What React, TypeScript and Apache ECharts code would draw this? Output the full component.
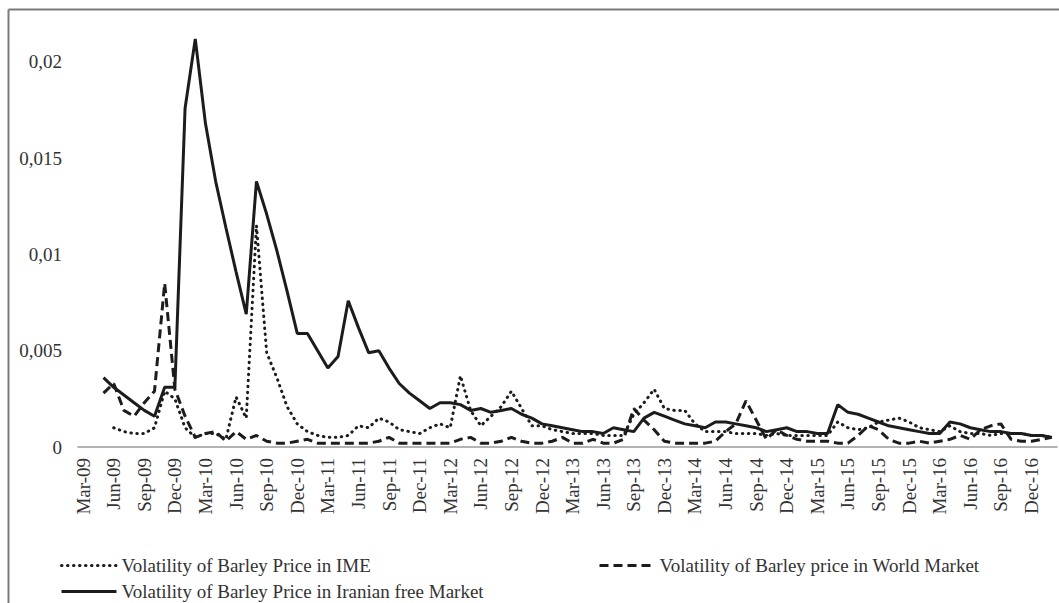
import React, { useEffect, useRef } from "react";
import * as echarts from "echarts";

const categories = [
  "Mar-09","Apr-09","May-09","Jun-09","Jul-09","Aug-09","Sep-09","Oct-09","Nov-09","Dec-09",
  "Jan-10","Feb-10","Mar-10","Apr-10","May-10","Jun-10","Jul-10","Aug-10","Sep-10","Oct-10","Nov-10","Dec-10",
  "Jan-11","Feb-11","Mar-11","Apr-11","May-11","Jun-11","Jul-11","Aug-11","Sep-11","Oct-11","Nov-11","Dec-11",
  "Jan-12","Feb-12","Mar-12","Apr-12","May-12","Jun-12","Jul-12","Aug-12","Sep-12","Oct-12","Nov-12","Dec-12",
  "Jan-13","Feb-13","Mar-13","Apr-13","May-13","Jun-13","Jul-13","Aug-13","Sep-13","Oct-13","Nov-13","Dec-13",
  "Jan-14","Feb-14","Mar-14","Apr-14","May-14","Jun-14","Jul-14","Aug-14","Sep-14","Oct-14","Nov-14","Dec-14",
  "Jan-15","Feb-15","Mar-15","Apr-15","May-15","Jun-15","Jul-15","Aug-15","Sep-15","Oct-15","Nov-15","Dec-15",
  "Jan-16","Feb-16","Mar-16","Apr-16","May-16","Jun-16","Jul-16","Aug-16","Sep-16","Oct-16","Nov-16","Dec-16",
  "Jan-17","Feb-17",
];

const imeValues = [
  null, null, null, 0.0010, 0.0008, 0.0007, 0.0007, 0.0010, 0.0029, 0.0025,
  0.0010, 0.0005, 0.0007, 0.0007, 0.0004, 0.0026, 0.0015, 0.0115, 0.0049, 0.0036, 0.0021, 0.0012,
  0.0008, 0.0006, 0.0005, 0.0005, 0.0006, 0.0011, 0.0010, 0.0015, 0.0013, 0.0009, 0.0008, 0.0007,
  0.0010, 0.0012, 0.0010, 0.0037, 0.0019, 0.0011, 0.0016, 0.0021, 0.0029, 0.0020, 0.0011, 0.0011,
  0.0009, 0.0008, 0.0007, 0.0007, 0.0007, 0.0006, 0.0006, 0.0006, 0.0017, 0.0023, 0.0030, 0.0020,
  0.0019, 0.0019, 0.0012, 0.0008, 0.0008, 0.0008, 0.0007, 0.0007, 0.0007, 0.0006, 0.0007, 0.0006,
  0.0006, 0.0006, 0.0006, 0.0006, 0.0013, 0.0010, 0.0009, 0.0010, 0.0013, 0.0014, 0.0015, 0.0013,
  0.0010, 0.0009, 0.0008, 0.0011, 0.0008, 0.0007, 0.0007, 0.0006, 0.0007, 0.0007, 0.0007, 0.0006,
  0.0006, 0.0005,
];

const worldValues = [
  null, null, 0.0028, 0.0033, 0.0019, 0.0016, 0.0023, 0.0029, 0.0085, 0.0030,
  0.0016, 0.0005, 0.0007, 0.0008, 0.0003, 0.0008, 0.0004, 0.0006, 0.0003, 0.0002, 0.0002, 0.0003,
  0.0004, 0.0002, 0.0002, 0.0002, 0.0002, 0.0002, 0.0002, 0.0003, 0.0005, 0.0002, 0.0002, 0.0002,
  0.0002, 0.0002, 0.0002, 0.0004, 0.0005, 0.0002, 0.0002, 0.0003, 0.0005, 0.0003, 0.0002, 0.0002,
  0.0003, 0.0005, 0.0002, 0.0002, 0.0004, 0.0002, 0.0002, 0.0004, 0.0020, 0.0014, 0.0009, 0.0003,
  0.0002, 0.0002, 0.0002, 0.0002, 0.0003, 0.0008, 0.0012, 0.0024, 0.0014, 0.0004, 0.0009, 0.0006,
  0.0004, 0.0003, 0.0003, 0.0003, 0.0002, 0.0002, 0.0006, 0.0011, 0.0009, 0.0004, 0.0002, 0.0002,
  0.0003, 0.0002, 0.0003, 0.0004, 0.0006, 0.0004, 0.0009, 0.0011, 0.0012, 0.0004, 0.0003, 0.0003,
  0.0004, 0.0005,
];

const iranValues = [
  null, null, 0.0036, 0.0031, 0.0027, 0.0023, 0.0019, 0.0016, 0.0031, 0.0031,
  0.0176, 0.0212, 0.0168, 0.0138, 0.0114, 0.0091, 0.0069, 0.0138, 0.0121, 0.0102, 0.0081, 0.0059,
  0.0059, 0.0050, 0.0041, 0.0047, 0.0076, 0.0062, 0.0049, 0.0050, 0.0041, 0.0033, 0.0028, 0.0024,
  0.0020, 0.0023, 0.0023, 0.0022, 0.0019, 0.0020, 0.0018, 0.0019, 0.0020, 0.0017, 0.0015, 0.0012,
  0.0011, 0.0010, 0.0009, 0.0008, 0.0008, 0.0007, 0.0010, 0.0009, 0.0008, 0.0015, 0.0018, 0.0016,
  0.0014, 0.0012, 0.0011, 0.0010, 0.0013, 0.0013, 0.0012, 0.0011, 0.0010, 0.0008, 0.0009, 0.0010,
  0.0008, 0.0008, 0.0007, 0.0007, 0.0022, 0.0018, 0.0017, 0.0015, 0.0013, 0.0011, 0.0010, 0.0009,
  0.0008, 0.0007, 0.0007, 0.0013, 0.0012, 0.0010, 0.0009, 0.0008, 0.0008, 0.0007, 0.0007, 0.0006,
  0.0006, 0.0005,
];

const seriesNames = [
  "Volatility of Barley Price in IME",
  "Volatility of Barley price in World Market",
  "Volatility of Barley Price in Iranian free Market",
];

const FONT = "'Liberation Serif', 'Times New Roman', serif";
const TEXT = "#333333";
const LINE = "#1c1c1c";

export default function App() {
  const ref = useRef<HTMLDivElement>(null);
  useEffect(() => {
    if (!ref.current) return;
    const chart = echarts.init(ref.current, undefined, { renderer: "svg" });
    const legendBase = {
      orient: "horizontal",
      itemWidth: 55,
      itemHeight: 14,
      padding: 0,
      selectedMode: false,
      itemStyle: { opacity: 0, color: "transparent", borderWidth: 0 },
      lineStyle: { width: 3 },
      textStyle: { fontFamily: FONT, fontSize: 19, color: TEXT },
    };
    chart.setOption({
      animation: false,
      backgroundColor: "#ffffff",
      grid: { left: 78, right: 2, top: 10, bottom: 156, containLabel: false },
      legend: [
        { ...legendBase, data: [seriesNames[0]], left: 60, top: 556 },
        { ...legendBase, data: [seriesNames[1]], left: 598, top: 556 },
        { ...legendBase, data: [seriesNames[2]], left: 60, top: 582 },
      ],
      xAxis: {
        type: "category",
        data: categories,
        boundaryGap: true,
        axisLine: { show: true, lineStyle: { color: "#9a9a9a", width: 1.5 } },
        axisTick: { show: false },
        axisLabel: {
          interval: 2,
          rotate: 90,
          margin: 11,
          fontFamily: FONT,
          fontSize: 19,
          color: TEXT,
        },
        splitLine: { show: false },
      },
      yAxis: {
        type: "value",
        min: 0,
        max: 0.0227,
        interval: 0.005,
        axisLine: { show: false },
        axisTick: { show: false },
        splitLine: { show: false },
        axisLabel: {
          showMaxLabel: false,
          margin: 16,
          fontFamily: FONT,
          fontSize: 19,
          color: TEXT,
          formatter: (v: number) => {
            const r = Number(v.toFixed(4));
            if (r === 0) return "0";
            return String(r).replace(".", ",");
          },
        },
      },
      series: [
        {
          name: seriesNames[0],
          type: "line",
          data: imeValues,
          symbol: "none",
          connectNulls: false,
          lineStyle: { color: LINE, width: 3, type: [0.5, 5.5], cap: "round" },
          itemStyle: { color: LINE },
          z: 3,
        },
        {
          name: seriesNames[1],
          type: "line",
          data: worldValues,
          symbol: "none",
          lineStyle: { color: LINE, width: 3, type: [9, 5] },
          itemStyle: { color: LINE },
          z: 2,
        },
        {
          name: seriesNames[2],
          type: "line",
          data: iranValues,
          symbol: "none",
          lineStyle: { color: LINE, width: 3 },
          itemStyle: { color: LINE },
          z: 4,
        },
      ],
      graphic: [
        {
          type: "line",
          shape: { x1: 8.5, y1: 9.5, x2: 8.5, y2: 603 },
          style: { stroke: "#7a7a7a", lineWidth: 2 },
          silent: true,
        },
        {
          type: "line",
          shape: { x1: 8.5, y1: 9.5, x2: 1059, y2: 9.5 },
          style: { stroke: "#7a7a7a", lineWidth: 2 },
          silent: true,
        },
      ],
    });
    return () => chart.dispose();
  }, []);
  return (
    <div
      ref={ref}
      style={{ position: "fixed", left: 0, top: 0, width: 1059, height: 603, background: "#fff" }}
    />
  );
}
